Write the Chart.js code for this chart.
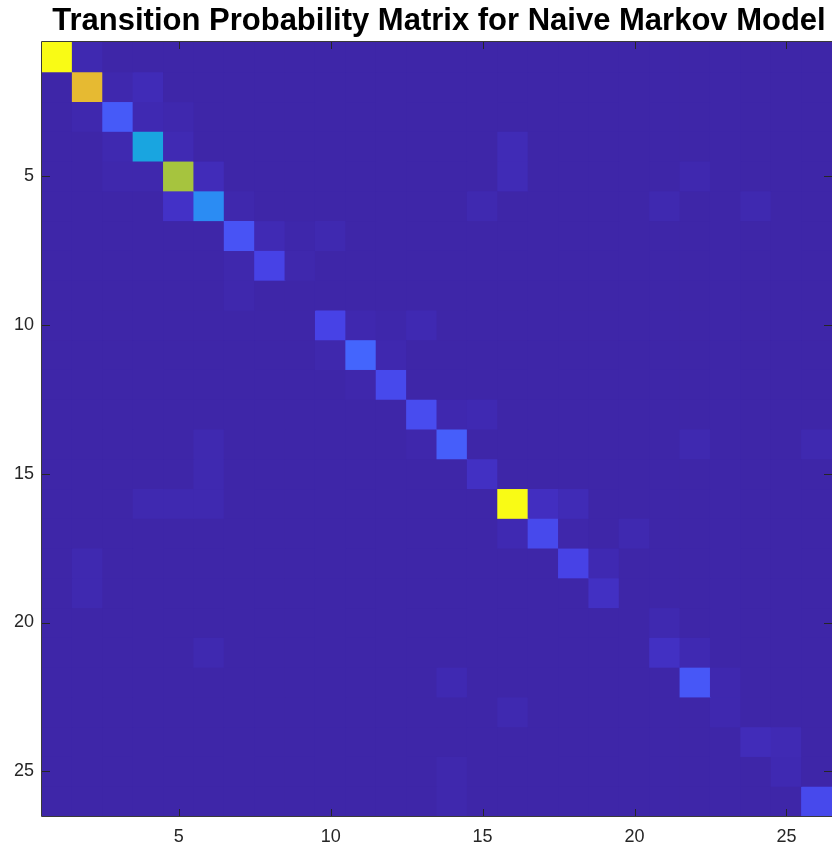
<!DOCTYPE html>
<html>
<head>
<meta charset="utf-8">
<script src="https://cdn.jsdelivr.net/npm/chart.js@4.4.0/dist/chart.umd.min.js"></script>
<style>
  html, body { margin: 0; padding: 0; background: #ffffff; }
  #wrap { width: 832px; height: 846px; }
</style>
</head>
<body>
<div id="wrap"><canvas id="chart" width="832" height="846"></canvas></div>
<script>
// States of the chain (row = current state, column = next state)
const states = ['1','2','3','4','5','6','7','8','9','10','11','12','13',
                '14','15','16','17','18','19','20','21','22','23','24','25','26'];

// Axis tick positions
const tickValues = [5, 10, 15, 20, 25];

// Estimated transition probabilities, one array per row (from-state)
const transitionProbs = [
  /* 1 */ [1.00,0.012,0,0,0,0,0,0,0,0,0,0,0,0,0,0,0,0,0,0,0,0,0,0,0,0],
  /* 2 */ [0,0.85,0.009,0.022,0,0,0,0,0,0,0,0,0,0,0,0,0,0,0,0,0,0,0,0,0,0],
  /* 3 */ [0,0.009,0.17,0.014,0.009,0,0,0,0,0,0,0,0,0,0,0,0,0,0,0,0,0,0,0,0,0],
  /* 4 */ [0,0,0.012,0.42,0.016,0,0,0,0,0,0,0,0,0,0,0.02,0,0,0,0,0,0,0,0,0,0],
  /* 5 */ [0,0,0.008,0.008,0.75,0.025,0,0,0,0,0,0,0,0,0,0.02,0,0,0,0,0,0.01,0,0,0,0],
  /* 6 */ [0,0,0,0,0.045,0.32,0.008,0,0,0,0,0,0,0,0.012,0,0,0,0,0,0.012,0,0,0.012,0,0],
  /* 7 */ [0,0,0,0,0,0,0.15,0.018,0.004,0.012,0,0,0,0,0,0,0,0,0,0,0,0,0,0,0,0],
  /* 8 */ [0,0,0,0,0,0,0.008,0.10,0.008,0,0,0,0,0,0,0,0,0,0,0,0,0,0,0,0,0],
  /* 9 */ [0,0,0,0,0,0,0.008,0,0,0,0,0,0,0,0,0,0,0,0,0,0,0,0,0,0,0],
  /*10 */ [0,0,0,0,0,0,0,0,0,0.10,0.01,0.004,0.014,0,0,0,0,0,0,0,0,0,0,0,0,0],
  /*11 */ [0,0,0,0,0,0,0,0,0,0.008,0.20,0.01,0,0,0,0,0,0,0,0,0,0,0,0,0,0],
  /*12 */ [0,0,0,0,0,0,0,0,0,0,0.006,0.12,0,0,0,0,0,0,0,0,0,0,0,0,0,0],
  /*13 */ [0,0,0,0,0,0,0,0,0,0,0,0,0.13,0.01,0.014,0,0,0,0,0,0,0,0,0,0,0],
  /*14 */ [0,0,0,0,0,0.012,0,0,0,0,0,0,0.006,0.18,0,0,0,0,0,0,0,0.012,0,0,0,0.012],
  /*15 */ [0,0,0,0,0,0.012,0,0,0,0,0,0,0,0,0.04,0,0,0,0,0,0,0,0,0,0,0],
  /*16 */ [0,0,0,0.012,0.012,0.012,0,0,0,0,0,0,0,0,0,1.00,0.035,0.02,0,0,0,0,0,0,0,0],
  /*17 */ [0,0,0,0,0,0,0,0,0,0,0,0,0,0,0,0.014,0.12,0.005,0,0.012,0,0,0,0,0,0],
  /*18 */ [0,0.012,0,0,0,0,0,0,0,0,0,0,0,0,0,0,0,0.10,0.014,0,0,0,0,0,0,0],
  /*19 */ [0,0.012,0,0,0,0,0,0,0,0,0,0,0,0,0,0,0,0,0.04,0,0,0,0,0,0,0],
  /*20 */ [0,0,0,0,0,0,0,0,0,0,0,0,0,0,0,0,0,0,0,0,0.012,0,0,0,0,0],
  /*21 */ [0,0,0,0,0,0.012,0,0,0,0,0,0,0,0,0,0,0,0,0,0,0.04,0.014,0,0,0,0],
  /*22 */ [0,0,0,0,0,0,0,0,0,0,0,0,0,0.014,0,0,0,0,0,0,0,0.16,0.01,0,0,0],
  /*23 */ [0,0,0,0,0,0,0,0,0,0,0,0,0,0,0,0.012,0,0,0,0,0,0,0.01,0,0,0],
  /*24 */ [0,0,0,0,0,0,0,0,0,0,0,0,0,0,0,0,0,0,0,0,0,0,0,0.025,0.018,0],
  /*25 */ [0,0,0,0,0,0,0,0,0,0,0,0,0,0.008,0,0,0,0,0,0,0,0,0,0,0.014,0],
  /*26 */ [0,0,0,0,0,0,0,0,0,0,0,0,0,0.008,0,0,0,0,0,0,0,0,0,0,0,0.12]
];

// Parula-style colour map, stops every 0.05 of the colour range
const parulaStops = [
  [62,38,168],[67,50,202],[71,66,230],[72,83,245],[68,101,253],[53,121,253],
  [46,135,247],[39,148,238],[31,160,228],[16,172,217],[6,180,198],[25,188,173],
  [54,193,150],[90,196,120],[128,196,90],[166,196,62],[199,190,46],[230,186,50],
  [252,194,48],[247,222,36],[249,251,21]
];

function parula(t) {
  t = Math.max(0, Math.min(1, t));
  const f = t * (parulaStops.length - 1);
  const i = Math.min(parulaStops.length - 2, Math.floor(f));
  const u = f - i;
  const a = parulaStops[i], b = parulaStops[i + 1];
  const c = a.map((v, k) => Math.round(v + (b[k] - v) * u));
  return `rgb(${c[0]},${c[1]},${c[2]})`;
}

const maxProb = Math.max(...transitionProbs.flat());

// One floating-bar dataset per matrix row; each bar is one cell.
const datasets = transitionProbs.map((row, r) => ({
  label: states[r],
  data: row.map(() => [r + 0.5, r + 1.5]),
  backgroundColor: row.map(v => parula(v / maxProb)),
  borderWidth: 0,
  barPercentage: 1,
  categoryPercentage: 1,
  grouped: false,
  inflateAmount: 0.5
}));

const FONT = '"Liberation Sans", Arial, Helvetica, sans-serif';
const AXIS_COLOR = '#262626';

// Frame, inward tick marks and title
const framePlugin = {
  id: 'frame',
  afterDatasetsDraw(chart) {
    const { ctx, chartArea: { left, top, right, bottom }, scales: { x, y } } = chart;
    ctx.save();
    ctx.lineWidth = 1;
    ctx.strokeStyle = '#3a3a3a';
    ctx.beginPath();
    ctx.moveTo(left - 0.5, bottom + 0.5);
    ctx.lineTo(left - 0.5, top - 0.5);
    ctx.lineTo(right + 0.5, top - 0.5);
    ctx.moveTo(left - 0.5, bottom + 0.5);
    ctx.lineTo(right + 0.5, bottom + 0.5);
    ctx.stroke();

    ctx.strokeStyle = AXIS_COLOR;
    ctx.beginPath();
    tickValues.forEach(v => {
      const px = Math.round(x.getPixelForValue(v - 1)) + 0.5;
      ctx.moveTo(px, bottom); ctx.lineTo(px, bottom - 7);
      ctx.moveTo(px, top);    ctx.lineTo(px, top + 7);
      const py = Math.round(y.getPixelForValue(v)) + 0.5;
      ctx.moveTo(left, py);  ctx.lineTo(left + 8, py);
      ctx.moveTo(right, py); ctx.lineTo(right - 8, py);
    });
    ctx.stroke();

    ctx.fillStyle = '#000000';
    ctx.font = `bold 31px ${FONT}`;
    ctx.textAlign = 'center';
    ctx.textBaseline = 'alphabetic';
    ctx.fillText('Transition Probability Matrix for Naive Markov Model', (left + right) / 2 + 2, 30);
    ctx.restore();
  }
};

new Chart(document.getElementById('chart'), {
  type: 'bar',
  data: { labels: states, datasets },
  options: {
    responsive: false,
    animation: false,
    devicePixelRatio: 1,
    layout: { padding: { top: 42, right: 0, left: 0, bottom: 0 } },
    plugins: { legend: { display: false }, title: { display: false }, tooltip: { enabled: false } },
    scales: {
      x: {
        type: 'category',
        offset: true,
        grid: { display: false, drawTicks: false },
        border: { display: false },
        afterBuildTicks: axis => { axis.ticks = tickValues.map(v => ({ value: v - 1 })); },
        afterFit: axis => { axis.height = 30; },
        ticks: { autoSkip: false, maxRotation: 0, padding: 10, color: AXIS_COLOR, font: { family: FONT, size: 18 } }
      },
      y: {
        type: 'linear',
        reverse: true,
        min: 0.5,
        max: 26.5,
        grid: { display: false, drawTicks: false },
        border: { display: false },
        afterBuildTicks: axis => { axis.ticks = tickValues.map(v => ({ value: v })); },
        afterFit: axis => { axis.width = 42; },
        ticks: { padding: 8, color: AXIS_COLOR, font: { family: FONT, size: 18 } }
      }
    }
  },
  plugins: [framePlugin]
});
</script>
</body>
</html>
